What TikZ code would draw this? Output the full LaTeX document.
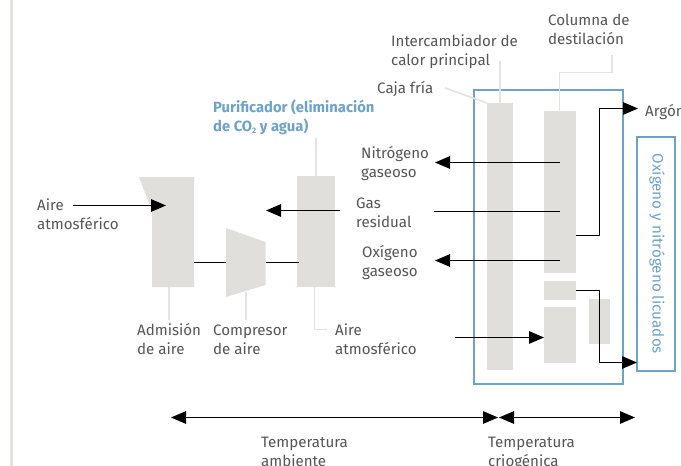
\documentclass[tikz,border=0pt]{standalone}
\usepackage{fontspec}
\setmainfont{Fira Sans}
\usetikzlibrary{arrows.meta,calc}
\definecolor{unitgray}{HTML}{E0DFDB}
\definecolor{lead}{HTML}{E4E3DF}
\definecolor{bluec}{HTML}{6DA3C6}
\definecolor{txt}{HTML}{555555}
\tikzset{
  x=1pt,y=-1pt,
  lab/.style={anchor=base west,inner sep=0pt,font=\fontsize{15.1}{19}\selectfont,text=txt,align=left},
  unit/.style={fill=unitgray,draw=none,inner sep=0pt,outer sep=0pt,anchor=north west},
  leader/.style={draw=lead,line width=1.6pt},
  flow/.style={draw=black,line width=1.25pt},
  arr/.style={flow,-{Triangle[length=15pt,width=12.5pt]}},
  biarr/.style={flow,{Triangle[length=15pt,width=12.5pt]}-{Triangle[length=15pt,width=12.5pt]}},
  bluebox/.style={draw=bluec,line width=2pt,inner sep=0pt,outer sep=0pt,anchor=north west}
}
\newcommand{\twol}[2]{\begin{tabular}[t]{@{}l@{}}#1\\#2\end{tabular}}
\begin{document}
\begin{tikzpicture}
\clip (0,0) rectangle (681,466);
\fill[white] (0,0) rectangle (681,466);
\fill[lead] (10,0) rectangle (12.6,466);
% equipment
\fill[unitgray] (139,177) -- (194,177) -- (194,287) -- (152,287) -- (152,211) -- cycle;
\fill[unitgray] (226,228) -- (265.5,242) -- (265.5,285) -- (226,297) -- cycle;
\node[unit,minimum width=38pt,minimum height=111pt] (pur) at (297,176) {};
\node[unit,minimum width=26pt,minimum height=267pt] (hx) at (487,103) {};
\node[unit,minimum width=32pt,minimum height=162pt] (col) at (544,111) {};
\node[unit,minimum width=32pt,minimum height=19pt] (mid) at (544,281) {};
\node[unit,minimum width=32pt,minimum height=56pt] (low) at (544,307) {};
\node[unit,minimum width=21pt,minimum height=45pt] (side) at (589,299) {};
\node[bluebox,minimum width=149.5pt,minimum height=294pt] (cold) at (473.5,90) {};
\node[bluebox,minimum width=38pt,minimum height=234pt] (liq) at (637,136.5) {};
\node[rotate=-90,inner sep=0pt,font=\fontsize{15.2}{16}\selectfont,text=bluec] (liqt) at (657,254) {Oxígeno y nitrógeno licuados};
% labels
\node[lab] (l1) at (37,210.5) {\twol{Aire}{atmosférico}};
\node[lab] (l2) at (137,335.5) {\twol{Admisión}{de aire}};
\node[lab] (l3) at (213,335.5) {\twol{Compresor}{de aire}};
\node[lab] (l4) at (335,335.5) {\twol{Aire}{atmosférico}};
\node[lab,text=bluec,font=\fontsize{14.8}{19}\selectfont\bfseries] (l5) at (213,112.5) {\twol{Purificador (eliminación}{de CO\raisebox{-.2ex}{\fontsize{8}{8}\selectfont 2} y agua)}};
\node[lab] (l6) at (361,158.5) {\twol{Nitrógeno}{gaseoso}};
\node[lab] (l7) at (356,208.5) {\twol{Gas}{residual}};
\node[lab] (l8) at (362,257.5) {\twol{Oxígeno}{gaseoso}};
\node[lab] (l9) at (391,46) {\twol{Intercambiador de}{calor principal}};
\node[lab] (l10) at (377,93) {Caja fría};
\node[lab] (l11) at (548,25) {\twol{Columna de}{destilación}};
\node[lab] (l12) at (645,116.5) {Argón};
\node[lab] (l13) at (261,447) {\twol{Temperatura}{ambiente}};
\node[lab] (l14) at (488,447) {\twol{Temperatura}{criogénica}};
% named points
\coordinate (a1) at (73,205.5); \coordinate (a2) at (166,205.5);
\coordinate (b1) at (194,262.5); \coordinate (b2) at (226,262.5);
\coordinate (b3) at (265.5,262.5); \coordinate (b4) at (298.5,262.5);
\coordinate (g1) at (340,210.5); \coordinate (g2) at (266,210.5);
\coordinate (g3) at (434,211.5); \coordinate (g4) at (560,211.5);
\coordinate (n1) at (560,162.5); \coordinate (n2) at (435,162.5);
\coordinate (o1) at (560,260.5); \coordinate (o2) at (435,260.5);
\coordinate (ar1) at (576,235.5); \coordinate (ar2) at (599.5,235.5); \coordinate (ar3) at (599.5,108.5); \coordinate (ar4) at (638,108.5);
\coordinate (q1) at (576,290.5); \coordinate (q2) at (599.5,290.5); \coordinate (q3) at (599.5,362.5); \coordinate (q4) at (637,362.5);
\coordinate (i1) at (455,337.5); \coordinate (i2) at (544,337.5);
\coordinate (t1) at (171,417.5); \coordinate (t2) at (498,417.5);
\coordinate (t3) at (499,417.5); \coordinate (t4) at (635,417.5);
% leaders
\draw[leader] (316,138) -- (316,176);
\draw[leader] (169,287) -- (169,320);
\draw[leader] (246,292) -- (246,320);
\draw[leader] (314.5,287) -- (314.5,329.5) -- (327,329.5);
\draw[leader] (445,88) -- (487,103);
\draw[leader] (500,61) -- (500,103);
\draw[leader] (612,55) -- (612,72.5) -- (559.5,72.5) -- (559.5,111);
% flows
\draw[arr] (a1) -- (a2);
\draw[flow] (b1) -- (b2);
\draw[flow] (b3) -- (b4);
\draw[arr] (g1) -- (g2);
\draw[flow] (g3) -- (g4);
\draw[arr] (n1) -- (n2);
\draw[arr] (o1) -- (o2);
\draw[arr] (ar1) -- (ar2) -- (ar3) -- (ar4);
\draw[arr] (q1) -- (q2) -- (q3) -- (q4);
\draw[arr] (i1) -- (i2);
\draw[biarr] (t1) -- (t2);
\draw[biarr] (t3) -- (t4);
\end{tikzpicture}
\end{document}
